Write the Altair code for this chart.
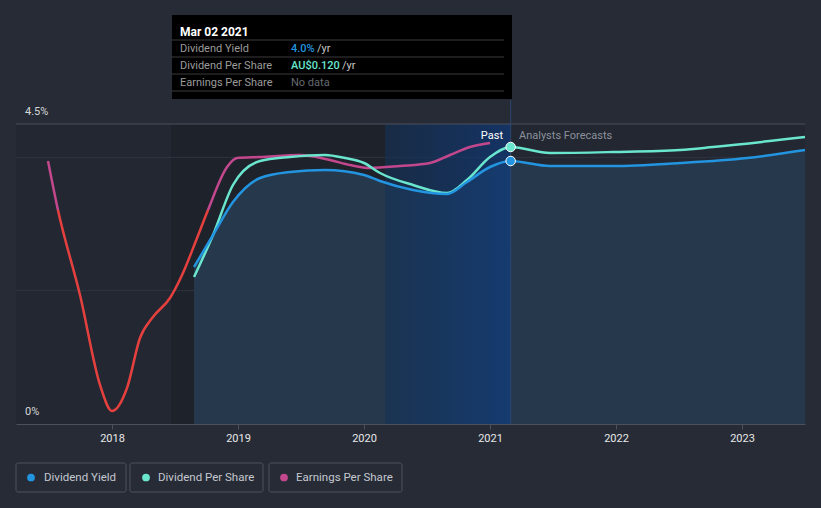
import altair as alt
import pandas as pd

# ---------------- data ----------------
dy_year = [2018.651, 2018.802, 2018.960, 2019.175, 2019.413, 2019.690, 2020.0, 2020.127,
           2020.389, 2020.659, 2020.817, 2021.0, 2021.164, 2021.476, 2021.976, 2022.508,
           2023.04, 2023.5]
dy_val = [2.355, 2.835, 3.33, 3.69, 3.78, 3.81, 3.735, 3.645,
          3.51, 3.45, 3.63, 3.855, 3.945, 3.87, 3.87, 3.915,
          3.99, 4.11]

dps_year = [2018.651, 2018.802, 2018.960, 2019.175, 2019.413, 2019.690, 2019.849, 2020.0,
            2020.127, 2020.389, 2020.659, 2020.817, 2021.0, 2021.164, 2021.476, 2021.976,
            2022.508, 2022.77, 2023.5]
dps_val = [2.205, 2.835, 3.585, 3.945, 4.005, 4.035, 3.99, 3.915,
           3.765, 3.585, 3.465, 3.66, 4.005, 4.155, 4.065, 4.08,
           4.11, 4.155, 4.305]

eps_year = [2017.492, 2017.571, 2017.746, 2017.905, 2018.0, 2018.119, 2018.222, 2018.325,
            2018.46, 2018.556, 2018.675, 2018.762, 2018.913, 2018.992, 2019.175, 2019.492,
            2019.73, 2019.889, 2020.048, 2020.286, 2020.524, 2020.683, 2020.841, 2021.0]
eps_val = [3.945, 3.21, 1.935, 0.585, 0.195, 0.54, 1.29, 1.605,
           1.89, 2.235, 2.79, 3.21, 3.855, 3.99, 4.005, 4.035,
           3.96, 3.885, 3.84, 3.87, 3.915, 4.035, 4.155, 4.215]

year_ticks = [2018, 2019, 2020, 2021, 2022, 2023]
y_label_vals = [0, 4.5]
y_label_text = ["0%", "4.5%"]
grid_vals = [2, 4]

x_domain = [2017.238, 2023.5]
y_domain = [0, 4.5]
past_start = 2018.47
highlight_start = 2020.167
cursor_year = 2021.164
point_vals = [4.155, 3.945]

tooltip_title = "Mar 02 2021"
tooltip_labels = ["Dividend Yield", "Dividend Per Share", "Earnings Per Share"]
tooltip_values = ["4.0%", "AU$0.120", "No data"]
legend_names = ["Dividend Yield", "Dividend Per Share", "Earnings Per Share"]

# ---------------- style ----------------
BG = "#262b36"
PLOT_BG = "#222731"
DARK_BAND = "#1e222b"
BLUE = "#2394df"
TEAL = "#6ae6cf"
PINK = "#c2478c"
RED = "#e5403e"
FONT = "Roboto"

xs = alt.Scale(domain=x_domain, nice=False, zero=False)
ys = alt.Scale(domain=y_domain, nice=False, zero=False)
xaxis = alt.Axis(values=year_ticks, format="d", title=None, grid=False,
                 domainColor="#4b515c", tickColor="#4b515c", tickSize=5,
                 labelColor="#e8e8e8", labelFont=FONT, labelFontSize=11,
                 labelPadding=3)

one = pd.DataFrame({"a": [0]})


def X(field):
    return alt.X(field, type="quantitative", scale=xs, axis=xaxis)


def Y(field):
    return alt.Y(field, type="quantitative", scale=ys, axis=None)


rects = pd.DataFrame({
    "x0": [x_domain[0], past_start],
    "x1": [x_domain[1], highlight_start],
    "y0": [0, 0], "y1": [4.5, 4.5],
    "c": ["plot", "band"],
})
bg_rects = alt.Chart(rects).mark_rect().encode(
    x=X("x0"), x2="x1", y=Y("y0"), y2="y1",
    color=alt.Color("c:N", scale=alt.Scale(domain=["plot", "band"], range=[PLOT_BG, DARK_BAND]), legend=None),
)

grid = alt.Chart(pd.DataFrame({"g": grid_vals})).mark_rule(color="#2f3440", strokeWidth=1).encode(
    y=Y("g"), x=alt.value(0), x2=alt.value(789)
)

dy_df = pd.DataFrame({"year": dy_year, "val": dy_val})
dps_df = pd.DataFrame({"year": dps_year, "val": dps_val})
eps_df = pd.DataFrame({"year": eps_year, "val": eps_val})

area = alt.Chart(dy_df).mark_area(interpolate="monotone", color="#26394c").encode(
    x=X("year"), y=Y("val")
)

hl = alt.Chart(pd.DataFrame({"x0": [highlight_start], "x1": [cursor_year], "y0": [0], "y1": [4.5]})).mark_rect(
    fill=alt.Gradient(gradient="linear", x1=0, x2=1, y1=0, y2=0,
                      stops=[alt.GradientStop(color="rgba(17,47,85,0.55)", offset=0),
                             alt.GradientStop(color="rgba(10,60,135,0.6)", offset=1)])
).encode(x=X("x0"), x2="x1", y=Y("y0"), y2="y1")

top_rule = alt.Chart(pd.DataFrame({"g": [4.5]})).mark_rule(color="#4b515c", strokeWidth=1).encode(
    y=Y("g"), x=alt.value(0), x2=alt.value(789)
)

cursor = alt.Chart(pd.DataFrame({"x": [cursor_year], "y": [0]})).mark_rule(color="#2b4670", strokeWidth=1).encode(
    x=X("x"), y=Y("y"), y2=alt.value(-24)
)

thr = (max(eps_val) - 3.21) / (max(eps_val) - min(eps_val))
eps_line = alt.Chart(eps_df).mark_line(
    interpolate="monotone", strokeWidth=2.5,
    stroke=alt.Gradient(gradient="linear", x1=0, x2=0, y1=0, y2=1,
                        stops=[alt.GradientStop(color=PINK, offset=0),
                               alt.GradientStop(color=PINK, offset=thr),
                               alt.GradientStop(color=RED, offset=thr),
                               alt.GradientStop(color=RED, offset=1)])
).encode(x=X("year"), y=Y("val"))

dps_line = alt.Chart(dps_df).mark_line(interpolate="monotone", strokeWidth=2.5, color=TEAL).encode(
    x=X("year"), y=Y("val"))
dy_line = alt.Chart(dy_df).mark_line(interpolate="monotone", strokeWidth=2.5, color=BLUE).encode(
    x=X("year"), y=Y("val"))

pts = alt.Chart(pd.DataFrame({"x": [cursor_year, cursor_year], "y": point_vals, "c": ["dps", "dy"]})).mark_point(
    filled=True, size=90, stroke="white", strokeWidth=1, opacity=1
).encode(
    x=X("x"), y=Y("y"),
    fill=alt.Fill("c:N", scale=alt.Scale(domain=["dps", "dy"], range=[TEAL, BLUE]), legend=None),
)

ylabels = alt.Chart(pd.DataFrame({"v": y_label_vals, "t": y_label_text})).mark_text(
    align="left", baseline="middle", dy=-12, font=FONT, fontSize=11, color="#d8d8d8"
).encode(y=Y("v"), x=alt.value(9), text="t:N")

past_txt = alt.Chart(one).mark_text(text="Past", align="right", baseline="middle", font=FONT,
                                    fontSize=11, color="#ffffff").encode(x=alt.value(487), y=alt.value(12))
fc_txt = alt.Chart(one).mark_text(text="Analysts Forecasts", align="left", baseline="middle", font=FONT,
                                  fontSize=11, color="#8c919b").encode(x=alt.value(503), y=alt.value(12))

layers = [bg_rects, grid, area, hl, top_rule, cursor, eps_line, dps_line, dy_line, pts,
          ylabels, past_txt, fc_txt]

# tooltip box
layers.append(alt.Chart(one).mark_rect(color="#000000").encode(
    x=alt.value(156), x2=alt.value(496), y=alt.value(-109), y2=alt.value(-25)))
for yy in [-84, -67, -50, -33]:
    layers.append(alt.Chart(one).mark_rule(color="#3a3a3a", strokeWidth=1).encode(
        x=alt.value(155), x2=alt.value(488), y=alt.value(yy)))
layers.append(alt.Chart(one).mark_text(text=tooltip_title, align="left", baseline="middle", font=FONT,
                                       fontSize=12, fontWeight="bold", color="#ffffff").encode(
    x=alt.value(164), y=alt.value(-92)))
row_y = [-75, -58, -41]
val_colors = [BLUE, TEAL, "#666a70"]
val_weights = [500, 500, "normal"]
yr_x = [301, 326, None]
for i in range(3):
    layers.append(alt.Chart(one).mark_text(text=tooltip_labels[i], align="left", baseline="middle", font=FONT,
                                           fontSize=11, color="#9b9b9b").encode(
        x=alt.value(164), y=alt.value(row_y[i])))
    layers.append(alt.Chart(one).mark_text(text=tooltip_values[i], align="left", baseline="middle", font=FONT,
                                           fontSize=11, fontWeight=val_weights[i], color=val_colors[i]).encode(
        x=alt.value(275), y=alt.value(row_y[i])))
    if yr_x[i] is not None:
        layers.append(alt.Chart(one).mark_text(text="/yr", align="left", baseline="middle", font=FONT,
                                               fontSize=11, color="#c8c8c8").encode(
            x=alt.value(yr_x[i]), y=alt.value(row_y[i])))

# legend
box_x = [(0, 110), (114, 247), (253, 386)]
dot_x = [15, 130, 268]
txt_x = [28, 142, 280]
leg_colors = [BLUE, TEAL, PINK]
for i in range(3):
    layers.append(alt.Chart(one).mark_rect(fill=BG, stroke="#4d525d", strokeWidth=1, cornerRadius=2).encode(
        x=alt.value(box_x[i][0]), x2=alt.value(box_x[i][1]), y=alt.value(339), y2=alt.value(368)))
    layers.append(alt.Chart(one).mark_point(filled=True, size=60, color=leg_colors[i], opacity=1).encode(
        x=alt.value(dot_x[i]), y=alt.value(353.5)))
    layers.append(alt.Chart(one).mark_text(text=legend_names[i], align="left", baseline="middle", font=FONT,
                                           fontSize=11.5, color="#c5c8cf").encode(
        x=alt.value(txt_x[i]), y=alt.value(353.5)))

chart = alt.layer(*layers).properties(
    width=789, height=300,
    autosize=alt.AutoSizeParams(type="none"),
    padding={"left": 16, "top": 124, "right": 16, "bottom": 84},
    background=BG,
).configure_view(stroke=None)

chart.save("out.html", embed_options={"renderer": "svg", "actions": False})
